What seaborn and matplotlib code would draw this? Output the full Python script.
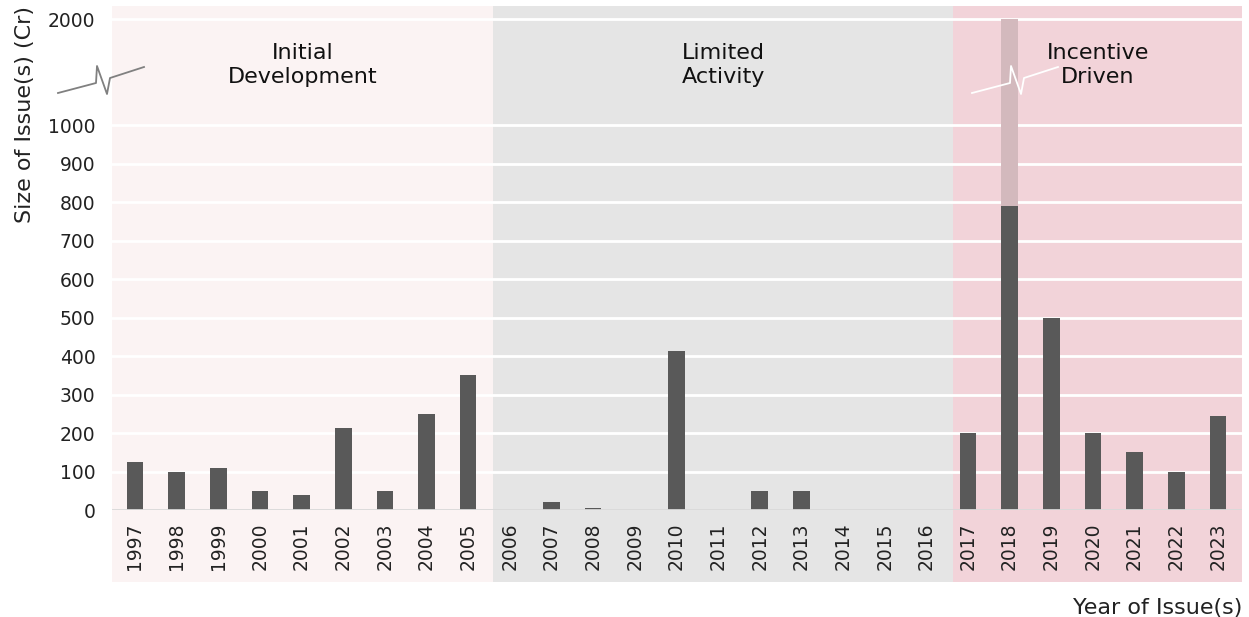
import matplotlib
matplotlib.use('Agg')
import matplotlib.pyplot as plt
import matplotlib.transforms as mtrans
import seaborn as sns
import pandas as pd

years = [str(y) for y in range(1997, 2024)]
issue_size = [125, 100, 110, 50, 40, 212, 50, 250, 350,
              0, 20, 5, 0, 412, 0, 50, 50, 0, 0, 0,
              200, 790, 500, 200, 150, 100, 245]
# part of 2018 shown above the axis break (reaches the 2000 line)
overflow_top = [0] * 21 + [2000] + [0] * 5

phases = ['Initial\nDevelopment', 'Limited\nActivity', 'Incentive\nDriven']
phase_bounds = [(-0.55, 8.6), (8.6, 19.65), (19.65, 26.58)]
phase_colors = ['#fbf3f3', '#e5e5e5', '#f2d3d9']

yticks = [0, 100, 200, 300, 400, 500, 600, 700, 800, 900, 1000, 2000]

# axis break: 1000..2000 squeezed into 275 units
def to_display(v):
    return v if v <= 1000 else 1000 + (v - 1000) * 0.275

df = pd.DataFrame({'Year': years, 'Size': issue_size,
                   'Top': [to_display(v) for v in overflow_top]})

plt.rcParams['font.family'] = ['DejaVu Sans']
fig = plt.figure(figsize=(12.49, 6.17), dpi=100)
ax = fig.add_axes([0.0897, 0.1734, 0.9047, 0.8166])

trans = mtrans.blended_transform_factory(ax.transData, ax.transAxes)
for (x0, x1), c, name in zip(phase_bounds, phase_colors, phases):
    ax.add_patch(plt.Rectangle((x0, -0.143), x1 - x0, 1.143, transform=trans,
                               facecolor=c, edgecolor='none', zorder=0, clip_on=False))
    ax.text((x0 + x1) / 2, 1155, name, ha='center', va='center',
            fontsize=16, color='#111111', linespacing=1.25, zorder=5)

for t in yticks:
    if t > 0:
        ax.axhline(to_display(t), color='white', lw=2, zorder=1)
ax.axhline(0, color='#d9d9d9', lw=2, zorder=3)

sns.barplot(data=df, x='Year', y='Top', order=years, color='#d3b9bd',
            saturation=1, width=0.4, linewidth=0, ax=ax, zorder=2)
sns.barplot(data=df, x='Year', y='Size', order=years, color='#595959',
            saturation=1, width=0.4, linewidth=0, ax=ax, zorder=2)

ax.set_xlim(-0.55, 26.58)
ax.set_ylim(0, 1309)
ax.set_yticks([to_display(t) for t in yticks])
ax.set_yticklabels([str(t) for t in yticks], fontsize=13.5, color='#222222')
ax.tick_params(axis='x', labelrotation=90, labelsize=13.5, labelcolor='#222222', length=0, pad=9)
ax.tick_params(axis='y', length=0, pad=12)
for s in ax.spines.values():
    s.set_visible(False)
ax.set_facecolor('none')

ax.set_ylabel('Size of Issue(s) (Cr)', loc='top', fontsize=16, color='#222222', labelpad=9)
ax.set_xlabel('Year of Issue(s)', loc='right', fontsize=16, color='#222222', labelpad=20)

# break marks (pixel-ish zigzags in figure fraction)
def zig(x_off, color):
    xs = [58, 96, 97, 107, 110, 144]
    ys = [93, 83, 66, 94, 78, 67]
    fig.add_artist(plt.Line2D([(x + x_off) / 1249 for x in xs], [1 - y / 617 for y in ys],
                              transform=fig.transFigure, color=color, lw=1.3, zorder=10))

zig(0, '#808080')
zig(914, 'white')

plt.savefig('out.png', dpi=100)
